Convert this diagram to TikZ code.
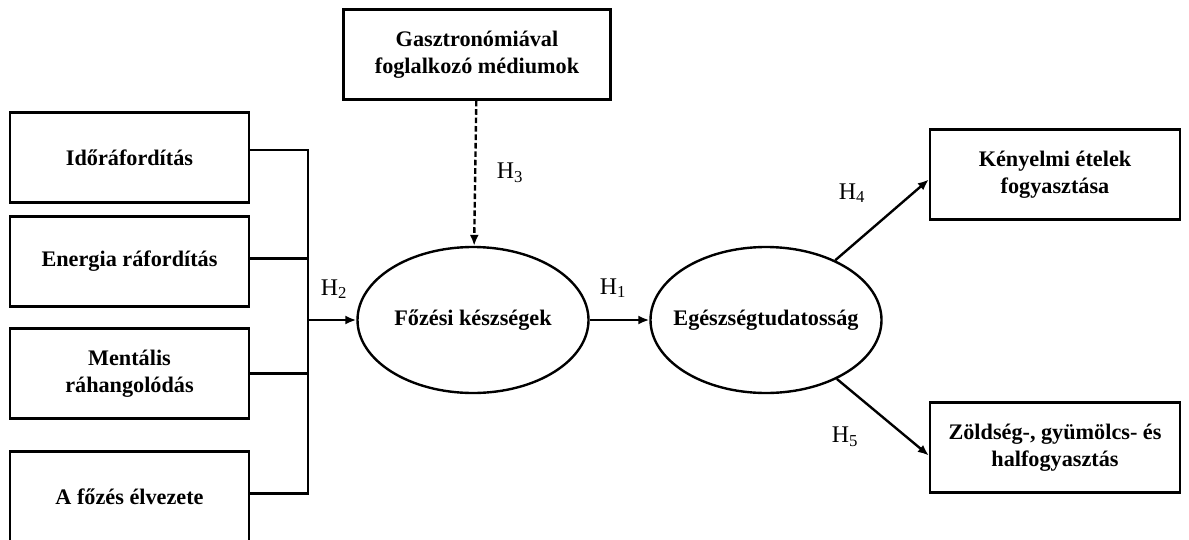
\documentclass[tikz,border=0pt]{standalone}
\usepackage{fontspec}
\setmainfont{Liberation Serif}
\usetikzlibrary{positioning,arrows,arrows.meta,calc,shapes.geometric}

\newdimen\pxu
\pxu=0.025cm

\tikzset{
  box/.style={draw, line width=1.7pt, minimum width=239\pxu, minimum height=90\pxu,
    inner sep=0pt, align=center, font=\fontsize{15.8}{19.2}\selectfont\bfseries},
  oval/.style={draw, ellipse, line width=1.7pt, minimum width=231\pxu, minimum height=146\pxu,
    inner sep=0pt, font=\fontsize{15.8}{19.2}\selectfont\bfseries},
  hyp/.style={font=\fontsize{17}{19}\selectfont},
  link/.style={line width=1.7pt},
}

\begin{document}
\begin{tikzpicture}[x=0.025cm, y=-0.025cm, >={Latex[length=7.8pt,width=6.4pt]}]

  \useasboundingbox (0,0) rectangle (1189,539);

  \node[box] (ido) at (129.5,157.5) {Időráfordítás};
  \node[box] (energia) at (129.5,261.5) {Energia ráfordítás};
  \node[box] (mentalis) at (129.5,373.5) {Mentális\\ráhangolódás};
  \node[box] (elvezet) at (129.5,496.5) {A főzés élvezete};

  \node[box, minimum width=267\pxu] (gasztro) at (477,54.5) {Gasztronómiával\\foglalkozó médiumok};

  % text kept zero-width so the ellipse keeps its size
  \node[oval] (fozes) at (473,320) {\makebox[0pt]{Főzési készségek}};
  \node[oval] (egesz) at (766,320) {\makebox[0pt]{Egészségtudatosság}};

  \node[box, minimum width=250\pxu] (kenyelmi) at (1055,174.5) {Kényelmi ételek\\fogyasztása};
  \node[box, minimum width=250\pxu] (zoldseg) at (1055,447.5) {Zöldség-, gyümölcs- és\\halfogyasztás};

  \coordinate (join) at (308,320);

  \draw[link] ([yshift=7.5\pxu]ido.east) -| (join);
  \draw[link] ([yshift=3\pxu]energia.east) -| (join);
  \draw[link] (mentalis.east) -| (join);
  \draw[link] ([yshift=3\pxu]elvezet.east) -| (join);

  \path[link, ->] (join) edge (fozes);
  \path[link, ->, dash pattern=on 4pt off 2pt] (gasztro) edge (fozes);
  \path[link, ->] (fozes) edge (egesz);
  \path[link, ->] (egesz) edge ([yshift=-5\pxu]kenyelmi.west);
  \path[link, ->] (egesz) edge ([yshift=-8\pxu]zoldseg.west);

  \node[hyp] (h1) at (613,288) {H\textsubscript{1}};
  \node[hyp] (h2) at (334,289) {H\textsubscript{2}};
  \node[hyp] (h3) at (510,173) {H\textsubscript{3}};
  \node[hyp] (h4) at (852,193) {H\textsubscript{4}};
  \node[hyp] (h5) at (845,437) {H\textsubscript{5}};

\end{tikzpicture}
\end{document}
